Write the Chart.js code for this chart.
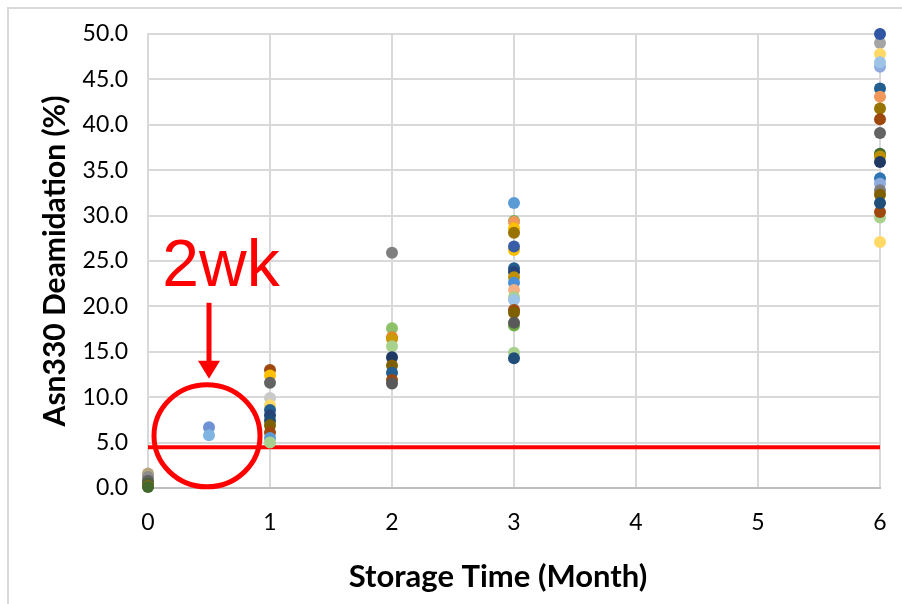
<!DOCTYPE html>
<html>
<head>
<meta charset="utf-8">
<script src="https://cdn.jsdelivr.net/npm/chart.js@4.4.1/dist/chart.umd.min.js"></script>
<style>
  html, body { margin: 0; padding: 0; background: #fff; }
  #wrap { width: 902px; height: 604px; position: relative; }
</style>
</head>
<body>
<div id="wrap"><canvas id="c" width="902" height="604"></canvas></div>
<script>
// ---- Data ----
const xTickLabels = [0, 1, 2, 3, 4, 5, 6];
const yTickStep = 5;
const thresholdValue = 4.5;
const annotationLabel = "2wk";
const annotationMonth = 0.5;
const xAxisTitle = 'Storage Time (Month)';
const yAxisTitle = 'Asn330 Deamidation (%)';

const month0Values = [1.6, 1.2, 0.8, 0.5, 0.2, 0.1];
const month0Colors = ['#B4A57E', '#8C8C8C', '#636363', '#4E5E3A', '#997300', '#43682B'];

const week2Values = [6.7, 5.8];
const week2Colors = ['#6D93D4', '#80B4E2'];

const month1Values = [13.0, 12.4, 11.6, 9.9, 9.1, 8.6, 8.0, 7.4, 6.9, 6.1, 5.5, 5.0];
const month1Colors = ['#9E480E', '#FFC000', '#636363', '#C9C9C9', '#FFD966', '#255E91', '#264478', '#1F4E79', '#7F6000', '#9E480E', '#5B9BD5', '#A9D18E'];

const month2Values = [25.9, 17.6, 16.6, 16.4, 15.6, 14.4, 13.5, 12.7, 11.9, 11.5];
const month2Colors = ['#7F7F7F', '#8CC168', '#ED7D31', '#CC9A06', '#A9D18E', '#203864', '#7F6000', '#255E91', '#9E480E', '#595959'];

const month3Values = [31.4, 29.4, 29.3, 28.6, 28.1, 26.2, 26.6, 24.2, 23.8, 23.2, 22.6, 21.8, 21.0, 20.7, 19.6, 19.3, 17.9, 18.2, 14.9, 14.3];
const month3Colors = ['#5B9BD5', '#70AD47', '#F1975A', '#FFC000', '#997300', '#FFC000', '#3A5DA8', '#255E91', '#264478', '#BF9000', '#4A90D9', '#F4B183', '#A9D18E', '#9DC3E6', '#9E480E', '#7F6000', '#70AD47', '#595959', '#A9D18E', '#1F4E79'];

const month6Values = [49.0, 50.0, 47.8, 46.4, 46.9, 44.0, 43.1, 41.8, 40.6, 39.1, 36.8, 36.5, 35.9, 34.1, 33.5, 32.8, 32.3, 29.8, 30.4, 31.4, 27.1];
const month6Colors = ['#A5A5A5', '#2F55A4', '#FFD966', '#8FAADC', '#9DC3E6', '#255E91', '#F1975A', '#997300', '#9E480E', '#636363', '#43682B', '#BF9000', '#203864', '#2E75B6', '#8FAADC', '#7F7F7F', '#7F6000', '#A9D18E', '#9E480E', '#1F4E79', '#FFD966'];

// ---- Build datasets ----
const groups = [
  { x: 0, values: month0Values, colors: month0Colors },
  { x: annotationMonth, values: week2Values, colors: week2Colors },
  { x: 1, values: month1Values, colors: month1Colors },
  { x: 2, values: month2Values, colors: month2Colors },
  { x: 3, values: month3Values, colors: month3Colors },
  { x: 6, values: month6Values, colors: month6Colors }
];

const datasets = groups.map(g => ({
  type: 'scatter',
  data: g.values.map(v => ({ x: g.x, y: v })),
  backgroundColor: g.colors,
  borderColor: g.colors,
  borderWidth: 0,
  pointRadius: 6,
  pointHoverRadius: 6,
  clip: false
}));

datasets.push({
  type: 'line',
  data: [{ x: xTickLabels[0], y: thresholdValue }, { x: xTickLabels[xTickLabels.length - 1], y: thresholdValue }],
  borderColor: '#FF0000',
  borderWidth: 4,
  pointRadius: 0,
  fill: false,
  clip: false
});

const FONT = 'Lato, "Open Sans", sans-serif';

const decorPlugin = {
  id: 'decor',
  beforeDraw(chart) {
    const ctx = chart.ctx;
    ctx.save();
    ctx.fillStyle = '#fff';
    ctx.fillRect(0, 0, chart.width, chart.height);
    ctx.strokeStyle = '#D9D9D9';
    ctx.lineWidth = 2;
    ctx.strokeRect(8, 8, chart.width + 20, chart.height + 20);
    ctx.restore();
  },
  afterDraw(chart) {
    const ctx = chart.ctx;
    ctx.save();
    ctx.fillStyle = '#000';
    ctx.font = 'bold 31px ' + FONT;
    ctx.textAlign = 'center';
    ctx.textBaseline = 'middle';
    ctx.fillText(xAxisTitle, chart.chartArea.left + 350, 577);
    ctx.restore();
  },
  afterDatasetsDraw(chart) {
    const ctx = chart.ctx;
    const xs = chart.scales.x, ys = chart.scales.y;
    const cx = xs.getPixelForValue(annotationMonth) - 2;
    const cy = ys.getPixelForValue(5.75);
    ctx.save();
    // circle
    ctx.strokeStyle = '#FF0000';
    ctx.lineWidth = 5;
    ctx.beginPath();
    ctx.ellipse(cx, cy, 53, 51, 0, 0, Math.PI * 2);
    ctx.stroke();
    // arrow
    const ax = xs.getPixelForValue(annotationMonth);
    const tipY = cy - 57;
    ctx.fillStyle = '#FF0000';
    ctx.fillRect(ax - 2.5, tipY - 76, 5, 62);
    ctx.beginPath();
    ctx.moveTo(ax - 11, tipY - 18);
    ctx.lineTo(ax + 11, tipY - 18);
    ctx.lineTo(ax, tipY);
    ctx.closePath();
    ctx.fill();
    // label
    ctx.font = '66px "Liberation Sans", Arial, sans-serif';
    ctx.textAlign = 'center';
    ctx.textBaseline = 'alphabetic';
    ctx.fillText(annotationLabel, ax + 12, tipY - 93);
    ctx.restore();
  }
};

new Chart(document.getElementById('c'), {
  data: { datasets },
  options: {
    responsive: false,
    animation: false,
    events: [],
    layout: { padding: { left: 33, top: 34, right: 22, bottom: 0 } },
    plugins: { legend: { display: false }, tooltip: { enabled: false } },
    scales: {
      x: {
        type: 'linear',
        min: xTickLabels[0],
        max: xTickLabels[xTickLabels.length - 1],
        afterBuildTicks: (scale) => { scale.ticks = xTickLabels.map(v => ({ value: v })); },
        ticks: { color: '#000', font: { family: FONT, size: 23 }, padding: 3, callback: (v) => String(v) },
        grid: { color: '#D9D9D9', lineWidth: 2, drawTicks: true, tickLength: 18, tickColor: 'rgba(0,0,0,0)' },
        border: { color: '#BFBFBF', width: 2 },
        title: { display: false },
        afterFit: (scale) => { scale.height = 116; }
      },
      y: {
        type: 'linear',
        min: 0,
        max: 50,
        ticks: { stepSize: yTickStep, color: '#000', font: { family: FONT, size: 23 }, padding: 20, callback: (v) => Number(v).toFixed(1) },
        grid: { color: '#D9D9D9', lineWidth: 2, drawTicks: false },
        border: { color: '#D9D9D9', width: 2 },
        title: { display: true, text: yAxisTitle, color: '#000', font: { family: FONT, size: 30, weight: 'bold' }, padding: { top: 4, bottom: 4 } },
        afterFit: (scale) => { scale.width = 148 - 33; }
      }
    }
  },
  plugins: [decorPlugin]
});
</script>
</body>
</html>
